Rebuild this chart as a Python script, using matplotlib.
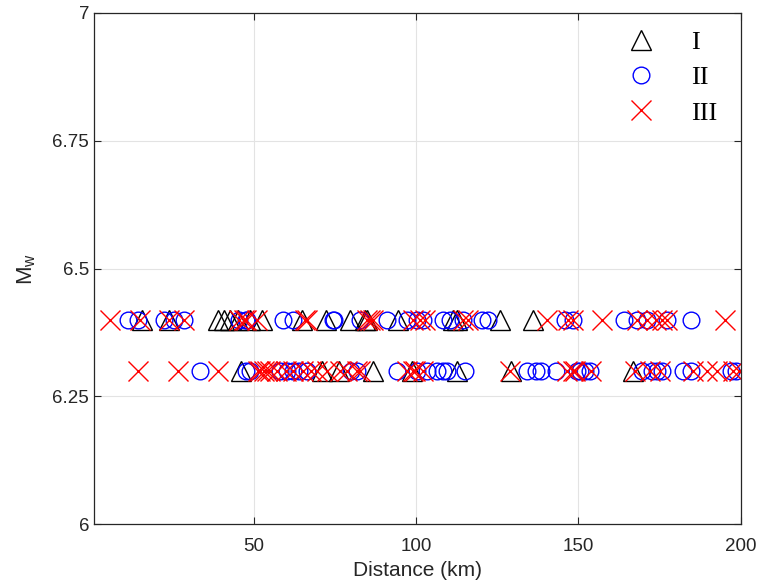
import numpy as np
from matplotlib import pyplot as plt

# distances (km) per class, two magnitude rows
I_64 = [15.5, 23.8, 38.9, 40.7, 42.6, 45.0, 48.7, 52.4, 64.8, 72.2, 79.5,
        84.2, 84.8, 94.3, 111.3, 112.5, 125.7, 135.9]
II_64 = [11.2, 14.3, 22.3, 25.3, 28.4, 45.4, 47.5, 48.0, 58.9, 62.0, 74.3,
         74.8, 82.6, 91.0, 97.1, 100.2, 102.0, 108.2, 110.3, 114.3, 120.2, 122.0,
         145.8, 148.2, 163.9, 167.9, 171.0, 177.2, 184.6]
III_64 = [5.6, 14.9, 23.8, 28.4, 45.4, 46.9, 47.5, 51.0, 65.7, 66.3, 84.8,
          85.7, 86.6, 99.0, 101.1, 102.6, 114.3, 115.9, 140.2, 146.7, 148.2,
          157.2, 167.9, 171.0, 173.8, 175.6, 177.2, 195.0]

I_63 = [46.0, 70.9, 76.2, 86.6, 98.6, 112.5, 129.1, 166.7]
II_63 = [33.3, 47.5, 48.7, 58.0, 60.1, 62.0, 63.8, 66.3, 79.9, 81.7, 94.0,
         100.2, 103.3, 106.3, 108.2, 109.4, 114.9, 134.1, 136.8, 138.4, 143.0,
         149.5, 150.4, 152.0, 153.5, 169.5, 172.6, 174.1, 175.6, 182.3, 184.6,
         196.9, 198.4]
III_63 = [14.3, 26.6, 38.9, 51.2, 52.0, 53.0, 54.0, 55.0, 57.0, 60.0, 62.0,
          65.0, 67.5, 69.4, 72.5, 76.5, 78.6, 81.7, 82.6, 97.1, 99.0, 99.6,
          102.0, 128.8, 146.4, 148.2, 148.8, 153.8, 167.3, 171.9, 175.0,
          185.2, 189.5, 192.6, 197.5, 199.5]

MAG_HI = 6.4
MAG_LO = 6.3

plt.rcParams['font.family'] = ['Liberation Sans', 'DejaVu Sans']

fig = plt.figure(figsize=(7.7, 5.87), dpi=100)
ax = fig.add_axes([0.122, 0.107, 0.840, 0.871])

ax.plot(I_64 + I_63, [MAG_HI]*len(I_64) + [MAG_LO]*len(I_63), '^',
        mfc='none', mec='k', ms=14, mew=1.0, ls='none', label='I')
ax.plot(II_64 + II_63, [MAG_HI]*len(II_64) + [MAG_LO]*len(II_63), 'o',
        mfc='none', mec='b', ms=12, mew=1.0, ls='none', label='II')
ax.plot(III_64 + III_63, [MAG_HI]*len(III_64) + [MAG_LO]*len(III_63), 'x',
        color='r', ms=14, mew=1.0, ls='none', label='III')

ax.set_xlim(0.7, 200)
ax.set_ylim(6, 7)
ax.set_xticks([50, 100, 150, 200])
ax.set_yticks([6, 6.25, 6.5, 6.75, 7])
ax.set_yticklabels(['6', '6.25', '6.5', '6.75', '7'])
ax.grid(True, color='#e3e3e3', lw=0.8)
ax.set_axisbelow(True)
ax.tick_params(direction='in', labelsize=13.5, colors='#262626', length=5,
               top=True, right=True)
ax.tick_params(axis='x', pad=10)
for s in ax.spines.values():
    s.set_color('#262626')
    s.set_linewidth(0.9)

ax.set_xlabel('Distance (km)', fontsize=15, color='#262626', labelpad=4)
ax.set_ylabel(r'M$_\mathregular{w}$', fontsize=16, color='#262626', labelpad=10)

leg = ax.legend(loc='upper right', frameon=False, handletextpad=1.15,
                borderaxespad=0.5, labelspacing=0.45, handlelength=1.5,
                prop={'family': 'Liberation Serif', 'size': 19},
                bbox_to_anchor=(1.0, 1.012))

fig.savefig('out.png', dpi=100)
plt.close(fig)
